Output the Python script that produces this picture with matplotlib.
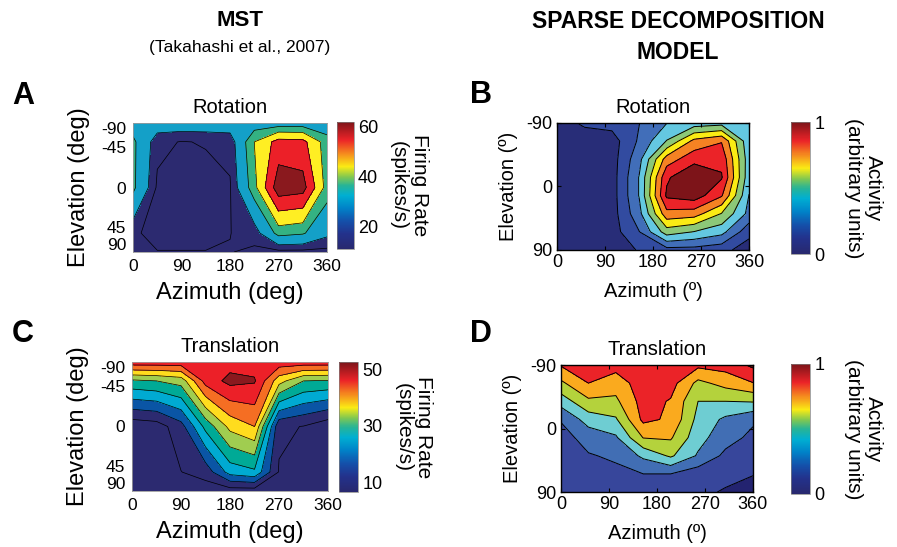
import numpy as np
import matplotlib
matplotlib.use('Agg')
import matplotlib.pyplot as plt
from matplotlib.colors import LinearSegmentedColormap, Normalize
from matplotlib.cm import ScalarMappable

plt.rcParams['font.family'] = ['Liberation Sans', 'DejaVu Sans']
plt.rcParams['axes.unicode_minus'] = False

# MST data (Takahashi et al., 2007): 45 deg azimuth steps, 5 elevations
az_mst = [0, 45, 90, 135, 180, 225, 270, 315, 360]
el_mst = [-90, -45, 0, 45, 90]

rot_mst = [
    [25, 25, 25, 25, 25, 25, 25, 25, 25],
    [32, 15.5, 13.7, 14.4, 15.5, 38, 52, 51, 33],
    [32, 13, 12, 12, 13.5, 35, 64, 62, 34],
    [15, 12, 12, 12, 13.9, 16, 33, 31, 22],
    [14.5, 14.2, 14.2, 14.2, 14.2, 13, 12, 12, 12],
]

trans_mst = [
    [48, 48, 48, 48, 48, 48, 48, 48, 48],
    [29, 30, 32, 47, 51.5, 50.5, 37, 30, 29.5],
    [6.5, 7.5, 13, 26.5, 36.5, 40, 11, 9.8, 6.5],
    [7, 7, 9.9, 12, 22, 24, 9.6, 7, 7],
    [7.5, 7.5, 7.5, 7.5, 7.5, 7.5, 7.5, 7.5, 7.5],
]

# sparse decomposition model: 8 x 8 grid
az_model = [0, 51.4, 102.9, 154.3, 205.7, 257.1, 308.6, 360]
el_model = [-90, -64.3, -38.6, -12.9, 12.9, 38.6, 64.3, 90]

rot_model = [
    [.06, .13, .15, .22, .33, .38, .40, .37],
    [.05, .05, .06, .24, .45, .70, .77, .36],
    [.05, .05, .06, .30, .72, .85, .86, .38],
    [.05, .05, .06, .34, .87, 1.0, .90, .37],
    [.05, .05, .06, .34, .91, .95, .79, .33],
    [.05, .05, .06, .30, .74, .72, .55, .30],
    [.05, .05, .06, .22, .50, .44, .37, .15],
    [.05, .05, .05, .12, .18, .18, .15, .05],
]

trans_model = [
    [.76, .85, .80, .85, .85, .78, .80, .90],
    [.60, .75, .68, .82, .80, .59, .67, .745],
    [.43, .60, .60, .80, .74, .50, .50, .51],
    [.26, .43, .485, .78, .73, .46, .35, .27],
    [.20, .30, .357, .63, .64, .42, .30, .22],
    [.19, .24, .27, .40, .52, .36, .22, .17],
    [.18, .20, .22, .25, .25, .18, .17, .13],
    [.16, .17, .18, .20, .20, .16, .11, .08],
]

# contour levels and band colours
lev_a = [0, 14, 20, 30, 38, 48, 58, 100]
col_a = ['#2c2a70', '#2c2a70', '#14a0c8', '#34b282', '#ffee23', '#ec2028', '#8a191e']
lev_c = [0, 10, 15, 20, 25, 30, 35, 40, 45, 50, 100]
col_c = ['#2c2a70', '#2c2a70', '#0a55a5', '#00aad2', '#00aa96', '#a0cd50',
         '#ffdc1e', '#f56e23', '#ec2028', '#8a191e']
lev_b = [0, .111, .222, .333, .444, .556, .667, .778, .889, 1.01]
col_b = ['#282d78', '#324ba0', '#416eb9', '#64c8e1', '#8cc878', '#faeb14',
         '#f58223', '#eb2328', '#7d1419']
lev_d = [0, .125, .25, .375, .5, .625, .75, .875, 1.01]
col_d = ['#232370', '#37469b', '#416eb4', '#6ecdd2', '#b4d23c', '#faaa1e',
         '#eb2328', '#7d1419']

cmap = LinearSegmentedColormap.from_list('jetish', [
    (0.00, '#28286e'), (0.12, '#23328c'), (0.22, '#1450aa'), (0.32, '#0082c8'),
    (0.42, '#00afd2'), (0.50, '#28b496'), (0.57, '#82c850'), (0.65, '#faeb14'),
    (0.75, '#f58c1e'), (0.86, '#eb2328'), (1.00, '#7d1419')])

fig = plt.figure(figsize=(8.97, 5.47), dpi=100)

ytick_mst = [-0.92, -0.63, 0.0, 0.62, 0.88]


def panel(rect, crect, az, el, z, lev, cols, title, vmin, vmax, cticks,
          clabel, mst):
    ax = fig.add_axes(rect)
    cax = fig.add_axes(crect)
    X, E = np.meshgrid(az, el)
    if mst:
        Y = np.sin(np.deg2rad(E))
    else:
        Y = E
    z = np.array(z)
    ax.contourf(X, Y, z, levels=lev, colors=cols)
    ax.contour(X, Y, z, levels=lev[1:-1], colors='k',
               linewidths=0.5 if mst else 0.7)
    ax.set_xlim(0, 360)
    ax.set_xticks([0, 90, 180, 270, 360])
    if mst:
        ax.set_ylim(1, -1)
        ax.set_yticks(ytick_mst)
        ax.set_yticklabels(['-90', '-45', '0', '45', '90'])
        ax.tick_params(length=0, labelsize=12.5, pad=5)
        for s in ax.spines.values():
            s.set_color('#9a9a9a')
            s.set_linewidth(0.6)
        ax.set_xlabel('Azimuth (deg)', fontsize=17, labelpad=6)
        ax.set_ylabel('Elevation (deg)', fontsize=17, labelpad=8)
    else:
        ax.set_ylim(90, -90)
        ax.set_yticks([-90, 0, 90])
        ax.tick_params(direction='in', length=3, labelsize=13, pad=3,
                       top=True, right=True)
        for s in ax.spines.values():
            s.set_linewidth(1.0)
        ax.set_xlabel('Azimuth (\u00ba)', fontsize=14.5, labelpad=8)
        ax.set_ylabel('Elevation (\u00ba)', fontsize=14.5, labelpad=6)
    ax.set_title(title, fontsize=14.5, pad=7)

    sm = ScalarMappable(norm=Normalize(vmin, vmax), cmap=cmap)
    cb = fig.colorbar(sm, cax=cax, ticks=cticks)
    cb.outline.set_linewidth(0.5)
    cb.outline.set_edgecolor('#808080')
    cax.tick_params(length=0, labelsize=13, pad=3)
    cb.set_label(clabel, rotation=270, fontsize=15, va='bottom',
                 labelpad=8 if mst else 14, linespacing=1.1)
    return ax


panel([0.1483, 0.5393, 0.2163, 0.2358], [0.3757, 0.5448, 0.0185, 0.2322],
      az_mst, el_mst, rot_mst, lev_a, col_a, 'Rotation', 11.2, 62,
      [20, 40, 60], 'Firing Rate\n(spikes/s)', True)
panel([0.621, 0.543, 0.214, 0.2322], [0.8818, 0.5356, 0.0212, 0.2413],
      az_model, el_model, rot_model, lev_b, col_b, 'Rotation', 0, 1,
      [0, 1], 'Activity\n(arbitrary units)', False)
panel([0.1472, 0.1024, 0.2185, 0.2358], [0.3779, 0.1005, 0.0212, 0.2377],
      az_mst, el_mst, trans_mst, lev_c, col_c, 'Translation', 6.5, 52.5,
      [10, 30, 50], 'Firing Rate\n(spikes/s)', True)
panel([0.6254, 0.1005, 0.214, 0.2322], [0.8818, 0.0969, 0.0212, 0.2377],
      az_model, el_model, trans_model, lev_d, col_d, 'Translation', 0, 1,
      [0, 1], 'Activity\n(arbitrary units)', False)

# headers and panel letters
fig.text(240 / 897, 1 - 21 / 547, 'MST', ha='center', va='center',
         fontsize=16, fontweight='bold')
fig.text(240 / 897, 1 - 48 / 547, '(Takahashi et al., 2007)', ha='center',
         va='center', fontsize=12.5)
fig.text(678 / 897, 1 - 37 / 547, 'SPARSE DECOMPOSITION\nMODEL', ha='center',
         va='center', fontsize=16.5, fontweight='bold', linespacing=1.4)

for letter, x, y in [('A', 12, 96), ('B', 470, 95), ('C', 12, 334), ('D', 470, 334)]:
    fig.text(x / 897, 1 - y / 547, letter, ha='left', va='center',
             fontsize=22, fontweight='bold')

fig.savefig('out.png', dpi=100)
